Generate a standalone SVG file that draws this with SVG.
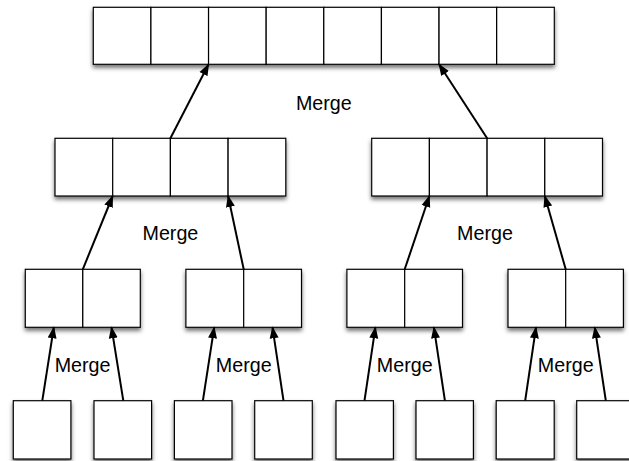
<svg xmlns="http://www.w3.org/2000/svg" width="629" height="461" viewBox="0 0 629 461">
<style>
.cell{fill:#fff;stroke:#000;stroke-width:1.2}
.box{filter:url(#sh)}
.lbl{font-family:"Liberation Sans",Arial,sans-serif;font-size:19.7px;fill:#000;text-anchor:middle}
.arr{stroke:#000;stroke-width:2;fill:none;marker-end:url(#ah)}
</style>
<defs>
<filter id="sh" x="-10%" y="-20%" width="120%" height="150%">
<feDropShadow dx="0" dy="3" stdDeviation="2" flood-color="#000" flood-opacity="0.55"/>
</filter>
<marker id="ah" markerUnits="userSpaceOnUse" markerWidth="12" markerHeight="10" refX="11" refY="4.5" orient="auto" viewBox="0 0 12 9">
<path d="M0,0 L12,4.5 L0,9 z" fill="#000"/>
</marker>
</defs>

<g id="top" class="box">
<rect class="cell" x="93.3" y="7.3" width="57.625" height="57"/>
<rect class="cell" x="150.925" y="7.3" width="57.625" height="57"/>
<rect class="cell" x="208.55" y="7.3" width="57.625" height="57"/>
<rect class="cell" x="266.175" y="7.3" width="57.625" height="57"/>
<rect class="cell" x="323.8" y="7.3" width="57.625" height="57"/>
<rect class="cell" x="381.425" y="7.3" width="57.625" height="57"/>
<rect class="cell" x="439.05" y="7.3" width="57.625" height="57"/>
<rect class="cell" x="496.675" y="7.3" width="57.625" height="57"/>
</g>

<g id="l2a" class="box">
<rect class="cell" x="55" y="138.3" width="57.7" height="57.7"/>
<rect class="cell" x="112.7" y="138.3" width="57.7" height="57.7"/>
<rect class="cell" x="170.4" y="138.3" width="57.7" height="57.7"/>
<rect class="cell" x="228.1" y="138.3" width="57.7" height="57.7"/>
</g>
<g id="l2b" class="box">
<rect class="cell" x="371.7" y="138.3" width="57.7" height="57.7"/>
<rect class="cell" x="429.4" y="138.3" width="57.7" height="57.7"/>
<rect class="cell" x="487.1" y="138.3" width="57.7" height="57.7"/>
<rect class="cell" x="544.8" y="138.3" width="57.7" height="57.7"/>
</g>

<g id="l3a" class="box">
<rect class="cell" x="25.3" y="269.3" width="57.5" height="58"/>
<rect class="cell" x="82.8" y="269.3" width="57.5" height="58"/>
</g>
<g id="l3b" class="box">
<rect class="cell" x="185.9" y="269.3" width="57.8" height="58"/>
<rect class="cell" x="243.7" y="269.3" width="57.8" height="58"/>
</g>
<g id="l3c" class="box">
<rect class="cell" x="346.9" y="269.3" width="57.8" height="58"/>
<rect class="cell" x="404.7" y="269.3" width="57.8" height="58"/>
</g>
<g id="l3d" class="box">
<rect class="cell" x="508" y="269.3" width="57.7" height="58"/>
<rect class="cell" x="565.7" y="269.3" width="57.7" height="58"/>
</g>

<g id="l4a" class="box"><rect class="cell" x="13.3" y="400.7" width="57.6" height="58.3"/></g>
<g id="l4b" class="box"><rect class="cell" x="94" y="400.7" width="57.6" height="58.3"/></g>
<g id="l4c" class="box"><rect class="cell" x="174.4" y="400.7" width="57.6" height="58.3"/></g>
<g id="l4d" class="box"><rect class="cell" x="254.7" y="400.7" width="57.6" height="58.3"/></g>
<g id="l4e" class="box"><rect class="cell" x="336" y="400.7" width="57.4" height="58.3"/></g>
<g id="l4f" class="box"><rect class="cell" x="416" y="400.7" width="57.4" height="58.3"/></g>
<g id="l4g" class="box"><rect class="cell" x="496.2" y="400.7" width="58" height="58.3"/></g>
<g id="l4h" class="box"><rect class="cell" x="576.7" y="400.7" width="58" height="58.3"/></g>

<g id="connectors">
<line class="arr" x1="170.4" y1="138.3" x2="208.55" y2="64.3"/>
<line class="arr" x1="487.1" y1="138.3" x2="439.05" y2="64.3"/>
<line class="arr" x1="82.8" y1="269.3" x2="112.7" y2="196"/>
<line class="arr" x1="243.7" y1="269.3" x2="228.1" y2="196"/>
<line class="arr" x1="404.7" y1="269.3" x2="429.4" y2="196"/>
<line class="arr" x1="565.7" y1="269.3" x2="544.8" y2="196"/>
<line class="arr" x1="42.3" y1="400.7" x2="53.8" y2="327.3"/>
<line class="arr" x1="123.3" y1="400.7" x2="111.5" y2="327.3"/>
<line class="arr" x1="202.9" y1="400.7" x2="214.2" y2="327.3"/>
<line class="arr" x1="283.5" y1="400.7" x2="272.5" y2="327.3"/>
<line class="arr" x1="364.5" y1="400.7" x2="375.4" y2="327.3"/>
<line class="arr" x1="444.9" y1="400.7" x2="433.9" y2="327.3"/>
<line class="arr" x1="525.2" y1="400.7" x2="536" y2="327.3"/>
<line class="arr" x1="605.8" y1="400.7" x2="594.8" y2="327.3"/>
</g>

<g id="labels">
<text class="lbl" x="323.8" y="110">Merge</text>
<text class="lbl" x="170.4" y="240">Merge</text>
<text class="lbl" x="485" y="240">Merge</text>
<text class="lbl" x="82.6" y="372">Merge</text>
<text class="lbl" x="243.7" y="372">Merge</text>
<text class="lbl" x="404.7" y="372">Merge</text>
<text class="lbl" x="565.7" y="372">Merge</text>
</g>
</svg>
